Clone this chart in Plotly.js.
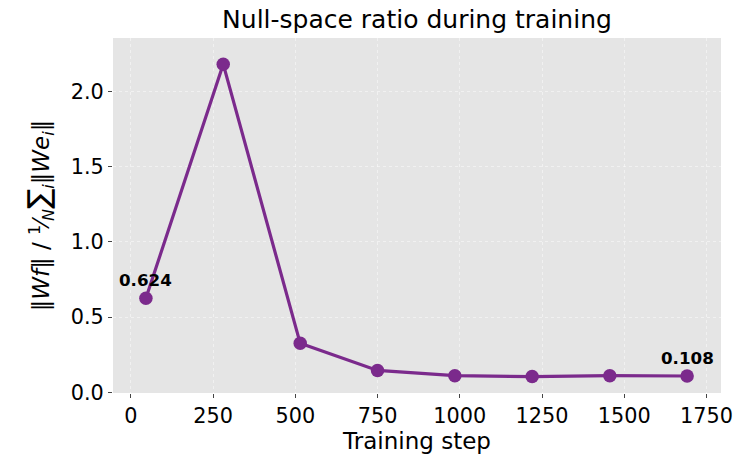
<!DOCTYPE html>
<html>
<head>
<meta charset="utf-8">
<script src="https://cdn.plot.ly/plotly-3.0.1.min.js"></script>
<style>html,body{margin:0;padding:0;background:#fff;}#chart{width:736px;height:457px;}</style>
</head>
<body>
<div id="chart"></div>
<script>
const steps = [46, 281, 515, 750, 985, 1220, 1456, 1691];
const ratios = [0.624, 2.18, 0.325, 0.145, 0.11, 0.104, 0.11, 0.108];
const xTicks = [0, 250, 500, 750, 1000, 1250, 1500, 1750];
const yTicks = [0.0, 0.5, 1.0, 1.5, 2.0];
const labelIdx = [0, steps.length - 1];

const font = "DejaVu Sans, sans-serif";
const purple = "#7B2A8C";

const trace = {
  x: steps, y: ratios, mode: "lines+markers", type: "scatter",
  line: {color: purple, width: 3.2},
  marker: {color: purple, size: 13.5},
  cliponaxis: false,
  hoverinfo: "skip"
};

const annotations = labelIdx.map(i => ({
  x: steps[i], y: ratios[i], xref: "x", yref: "y",
  text: "<b>" + ratios[i].toFixed(3) + "</b>",
  showarrow: false, yshift: 18,
  font: {family: font, size: 16.7, color: "#000"}
}));

const layout = {
  width: 736, height: 457,
  margin: {l: 113, r: 15, t: 38, b: 64},
  paper_bgcolor: "#fff", plot_bgcolor: "#e5e5e5",
  showlegend: false,
  title: {text: "Null-space ratio during training", font: {family: font, size: 25, color: "#000"}, x: 0.5, xref: "paper", xanchor: "center", y: 0.978, yanchor: "top"},
  xaxis: {
    range: [-54, 1794], tickvals: xTicks, ticktext: xTicks.map(String),
    ticks: "outside", ticklen: 4, tickcolor: "#444", tickwidth: 1,
    showgrid: true, gridcolor: "rgba(255,255,255,0.45)", griddash: "dot", gridwidth: 1,
    zeroline: false, showline: false,
    tickfont: {family: font, size: 20.8, color: "#000"},
    title: {text: "Training step", font: {family: font, size: 23, color: "#000"}, standoff: 5}
  },
  yaxis: {
    range: [-0.005, 2.354], tickvals: yTicks, ticktext: yTicks.map(v => v.toFixed(1)),
    ticks: "outside", ticklen: 4, tickcolor: "#444", tickwidth: 1,
    showgrid: true, gridcolor: "rgba(255,255,255,0.45)", griddash: "dot", gridwidth: 1,
    zeroline: false, showline: false,
    tickfont: {family: font, size: 20.8, color: "#000"},
    title: {text: "‖<i>Wf</i>‖ / <sup>1</sup>⁄<sub><i>N</i></sub><span style=\"font-size:30px\">∑</span><sub><i>i</i></sub>‖<i>We</i><sub><i>i</i></sub>‖", font: {family: font, size: 23, color: "#000"}, standoff: 14}
  },
  annotations: annotations
};

Plotly.newPlot("chart", [trace], layout, {displayModeBar: false, staticPlot: true});
</script>
</body>
</html>
